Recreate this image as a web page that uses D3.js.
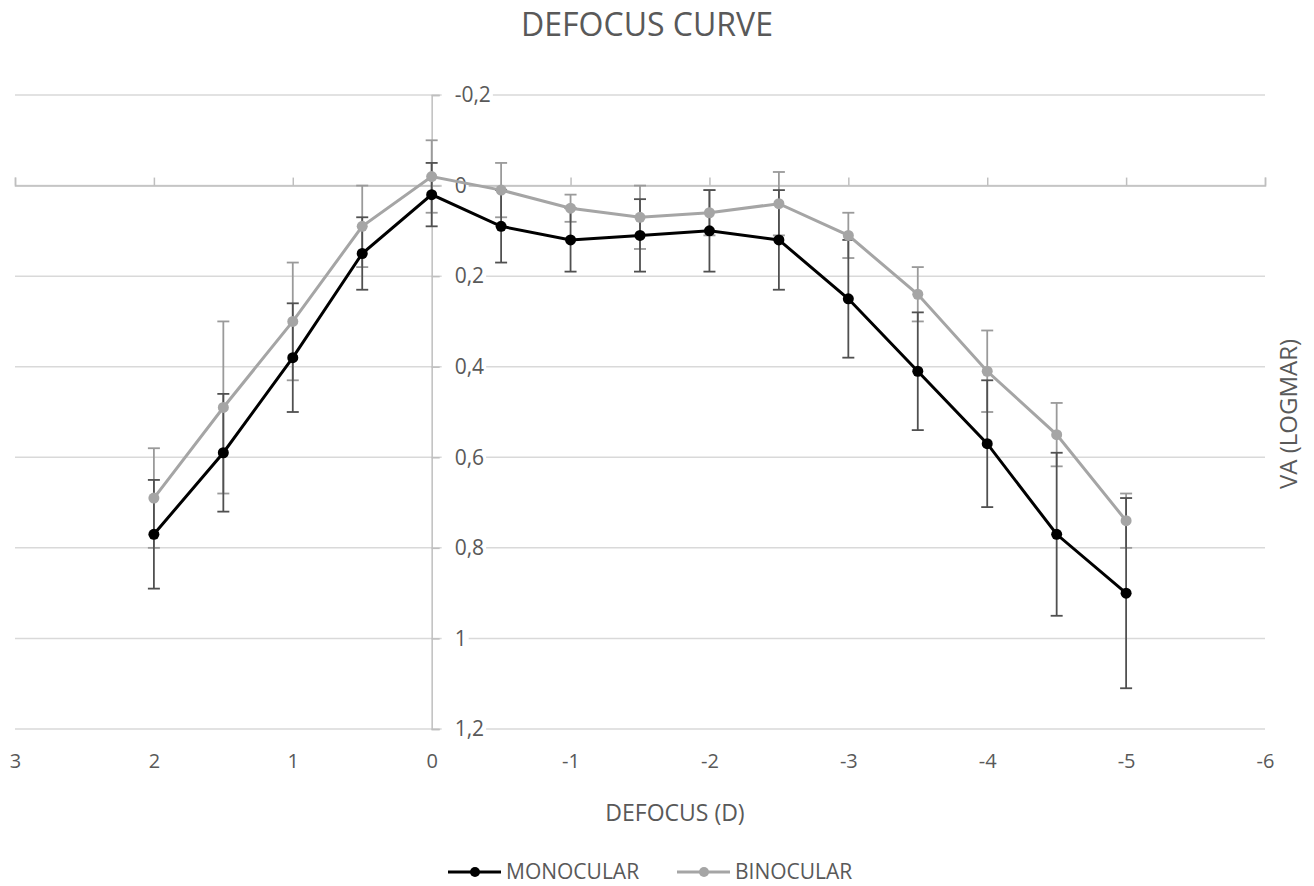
<!DOCTYPE html>
<html>
<head>
<meta charset="utf-8">
<script src="https://cdn.jsdelivr.net/npm/d3@7"></script>
<style>
    body { margin: 0; background: #fff; }
    svg text { font-family: "Open Sans", sans-serif; fill: #595959; }
</style>
</head>
<body>
<svg id="chart" width="1314" height="886"></svg>
<script>
// defocus steps (D) and mean VA (logMAR) with SD
var defocus = [2, 1.5, 1, 0.5, 0, -0.5, -1, -1.5, -2, -2.5, -3, -3.5, -4, -4.5, -5];
var monocular = [0.77, 0.59, 0.38, 0.15, 0.02, 0.09, 0.12, 0.11, 0.10, 0.12, 0.25, 0.41, 0.57, 0.77, 0.90];
var monocularSD = [0.12, 0.13, 0.12, 0.08, 0.07, 0.08, 0.07, 0.08, 0.09, 0.11, 0.13, 0.13, 0.14, 0.18, 0.21];
var binocular = [0.69, 0.49, 0.30, 0.09, -0.02, 0.01, 0.05, 0.07, 0.06, 0.04, 0.11, 0.24, 0.41, 0.55, 0.74];
var binocularSD = [0.11, 0.19, 0.13, 0.09, 0.08, 0.06, 0.03, 0.07, 0.05, 0.07, 0.05, 0.06, 0.09, 0.07, 0.06];
var xTicks = [3, 2, 1, 0, -1, -2, -3, -4, -5, -6];
var yTicks = [-0.2, 0, 0.2, 0.4, 0.6, 0.8, 1, 1.2];
var seriesNames = ["MONOCULAR", "BINOCULAR"];

var svg = d3.select("#chart");

var x = d3.scaleLinear().domain([3, -6]).range([15, 1265]);
var y = d3.scaleLinear().domain([-0.2, 1.2]).range([95, 729]);

// comma decimals like the original
function fmt(v) {
    return String(Math.round(v * 10) / 10).replace(".", ",");
}

// gridlines
svg.append("g")
    .selectAll("line")
    .data(yTicks)
    .enter()
    .append("line")
    .attr("x1", x(3))
    .attr("x2", x(-6))
    .attr("y1", function (d) { return y(d); })
    .attr("y2", function (d) { return y(d); })
    .style("stroke", "#d9d9d9")
    .style("stroke-width", 1.5);

// x axis sits on y = 0, ticks point up
var xAxis = svg.append("g")
    .attr("transform", "translate(0," + y(0) + ")")
    .call(d3.axisTop(x).tickValues(xTicks).tickSize(8).tickFormat(""));
xAxis.select(".domain").style("stroke", "#bfbfbf").style("stroke-width", 1.5);
xAxis.selectAll(".tick line").style("stroke", "#bfbfbf").style("stroke-width", 1.5);

// x tick labels are shown low
var xLabels = svg.append("g")
    .attr("transform", "translate(0,756)")
    .call(d3.axisBottom(x).tickValues(xTicks).tickSize(0).tickPadding(0).tickFormat(fmt));
xLabels.select(".domain").remove();
xLabels.selectAll("text")
    .style("font-size", "20px")
    .attr("dy", "0.6em");

// y axis at x = 0
var yAxis = svg.append("g")
    .attr("transform", "translate(" + x(0) + ",0)")
    .call(d3.axisRight(y).tickValues(yTicks).tickSize(8).tickPadding(15).tickFormat(fmt));
yAxis.select(".domain").style("stroke", "#bfbfbf").style("stroke-width", 1.5);
yAxis.selectAll(".tick line").style("stroke", "#bfbfbf").style("stroke-width", 1.5);
yAxis.selectAll(".tick text").style("font-size", "21px");

// white box behind the y labels, they cut the gridlines
yAxis.selectAll(".tick").each(function () {
    var t = d3.select(this).select("text");
    var b = t.node().getBBox();
    d3.select(this).insert("rect", "text")
        .attr("x", 10)
        .attr("y", b.y)
        .attr("width", b.x + b.width - 8)
        .attr("height", b.height)
        .style("fill", "#fff");
});

// error bars
function errorBars(values, sd, color) {
    var g = svg.append("g").style("stroke", color).style("stroke-width", 1.8);
    defocus.forEach(function (d, i) {
        var top = y(values[i] - sd[i]), bot = y(values[i] + sd[i]), cx = x(d);
        g.append("line").attr("x1", cx).attr("x2", cx).attr("y1", top).attr("y2", bot);
        g.append("line").attr("x1", cx - 6).attr("x2", cx + 6).attr("y1", top).attr("y2", top);
        g.append("line").attr("x1", cx - 6).attr("x2", cx + 6).attr("y1", bot).attr("y2", bot);
    });
}
errorBars(binocular, binocularSD, "#9a9a9a");
errorBars(monocular, monocularSD, "#505050");

var line = d3.line()
    .x(function (d) { return x(d[0]); })
    .y(function (d) { return y(d[1]); });

function series(values, color) {
    var pts = defocus.map(function (d, i) { return [d, values[i]]; });
    svg.append("path")
        .datum(pts)
        .attr("d", line)
        .style("fill", "none")
        .style("stroke", color)
        .style("stroke-width", 3);
    svg.append("g")
        .selectAll("circle")
        .data(pts)
        .enter()
        .append("circle")
        .attr("cx", function (d) { return x(d[0]); })
        .attr("cy", function (d) { return y(d[1]); })
        .attr("r", 5.5)
        .style("fill", color);
}
series(binocular, "#a5a5a5");
series(monocular, "#000000");

// title
svg.append("text")
    .attr("x", 647)
    .attr("y", 36)
    .attr("text-anchor", "middle")
    .style("font-size", "32px")
    .text("DEFOCUS CURVE");

// axis titles
svg.append("text")
    .attr("x", 675)
    .attr("y", 821)
    .attr("text-anchor", "middle")
    .style("font-size", "23px")
    .text("DEFOCUS (D)");

svg.append("text")
    .attr("transform", "translate(1297," + 414 + ") rotate(-90)")
    .attr("text-anchor", "middle")
    .style("font-size", "24px")
    .text("VA (LOGMAR)");

// legend
var legendItems = [
    {name: seriesNames[0], color: "#000000", x: 448},
    {name: seriesNames[1], color: "#a5a5a5", x: 677}
];
var legend = svg.append("g").attr("transform", "translate(0,872)");
legendItems.forEach(function (d) {
    legend.append("line")
        .attr("x1", d.x).attr("x2", d.x + 53)
        .attr("y1", 0).attr("y2", 0)
        .style("stroke", d.color)
        .style("stroke-width", 3);
    legend.append("circle")
        .attr("cx", d.x + 27).attr("cy", 0).attr("r", 5)
        .style("fill", d.color);
    legend.append("text")
        .attr("x", d.x + 58)
        .attr("y", 0)
        .attr("dy", "0.35em")
        .style("font-size", "21px")
        .text(d.name);
});
</script>
</body>
</html>
